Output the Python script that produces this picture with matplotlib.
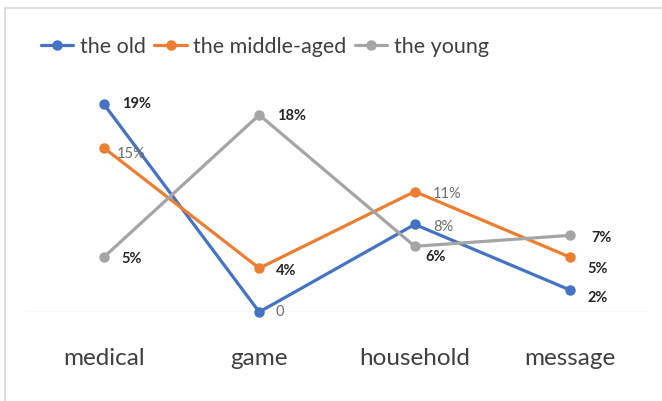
import matplotlib.pyplot as plt
from matplotlib.lines import Line2D

# categories and series (percent)
categories = ["medical", "game", "household", "message"]
series_names = ["the old", "the middle-aged", "the young"]
old_vals = [19, 0, 8, 2]
middle_vals = [15, 4, 11, 5]
young_vals = [5, 18, 6, 7]
label_texts = [
    ["19%", "0", "8%", "2%"],
    ["15%", "4%", "11%", "5%"],
    ["5%", "18%", "6%", "7%"],
]

colors = ["#4472C4", "#ED7D31", "#A5A5A5"]

# label style per point: (dx px, dy px, bold)
label_style = [
    [(18, 0, True), (16, 0, False), (18, -3, False), (17, -8, True)],
    [(13, -6, False), (17, -3, True), (18, -2, False), (17, -12, True)],
    [(18, -2, True), (18, -1, True), (11, -11, True), (21, -3, True)],
]

plt.rcParams["font.family"] = ["Lato", "DejaVu Sans"]

W, H = 662, 401
fig = plt.figure(figsize=(W / 100, H / 100), dpi=100)
ax = fig.add_axes([26 / W, (H - 312) / H, 622 / W, (20 * 10.95) / H])

x = range(len(categories))
all_vals = [old_vals, middle_vals, young_vals]
for vals, name, c in zip(all_vals, series_names, colors):
    ax.plot(x, vals, color=c, lw=2.3, marker="o", ms=6.5, label=name,
            solid_capstyle="round", zorder=3, clip_on=False)

px = 72 / 100
for si, vals in enumerate(all_vals):
    for i, v in enumerate(vals):
        dx, dy, bold = label_style[si][i]
        ax.annotate(label_texts[si][i], (i, v),
                    xytext=(dx * px, dy * px), textcoords="offset points",
                    ha="left", va="center",
                    fontsize=10.5 if bold else 10.5,
                    fontweight="bold" if bold else "normal",
                    color="#262626" if bold else "#6f6f6f", zorder=4)

ax.set_xlim(-0.5, 3.5)
ax.set_ylim(0, 20)
ax.axhline(0, color="#D9D9D9", lw=1.0, zorder=1)
for s in ax.spines.values():
    s.set_visible(False)
ax.set_yticks([])
ax.set_xticks(list(x))
ax.set_xticklabels(categories, fontsize=17.5, color="#404040")
ax.tick_params(axis="x", length=0, pad=26)
ax.patch.set_alpha(0)

fig.legend(loc="center", bbox_to_anchor=(265 / W, 1 - 47 / H), ncol=3,
           frameon=False, fontsize=15.5, handlelength=1.5, handletextpad=0.3,
           columnspacing=0.4, labelcolor="#404040")

# chart border
fig.add_artist(Line2D([5 / W, 5 / W], [0, 1 - 8 / H], color="#D9D9D9", lw=1.2))
fig.add_artist(Line2D([5 / W, 1], [1 - 8 / H, 1 - 8 / H], color="#D9D9D9", lw=1.2))

fig.savefig("out.png", dpi=100)
